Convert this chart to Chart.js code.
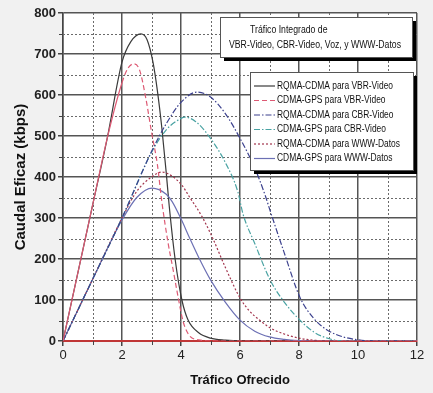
<!DOCTYPE html>
<html>
<head>
<meta charset="utf-8">
<script src="https://cdn.jsdelivr.net/npm/chart.js@4.4.1/dist/chart.umd.min.js"></script>
<style>
  html, body { margin: 0; padding: 0; background: #f1f1f1; }
  #wrap { width: 433px; height: 393px; }
</style>
</head>
<body>
<div id="wrap"><canvas id="chart" width="433" height="393"></canvas></div>
<script>
// valores
const titleLines = ['Tráfico Integrado de', 'VBR-Video, CBR-Video, Voz, y WWW-Datos'];
const seriesNames = [
  'RQMA-CDMA para VBR-Video',
  'CDMA-GPS para VBR-Video',
  'RQMA-CDMA para CBR-Video',
  'CDMA-GPS para CBR-Video',
  'RQMA-CDMA para WWW-Datos',
  'CDMA-GPS para WWW-Datos'
];
const xTicks = [0, 2, 4, 6, 8, 10, 12];
const yTicks = [0, 100, 200, 300, 400, 500, 600, 700, 800];

const vbrRqmaX = [0, 1, 1.5, 2, 2.3, 2.64, 2.85, 3.05, 3.2, 3.35, 3.5, 3.6, 3.8, 4.03, 4.24, 4.6, 5, 5.5, 6, 12];
const vbrRqmaY = [0, 330, 495, 680, 730, 749, 735, 680, 610, 520, 410, 330, 200, 100, 51, 20, 7, 2, 0, 0];

const vbrGpsX = [0, 1, 1.5, 2, 2.2, 2.4, 2.6, 2.8, 3.0, 3.2, 3.35, 3.56, 3.73, 3.9, 4.07, 4.3, 4.6, 5, 12];
const vbrGpsY = [0, 330, 495, 630, 665, 676, 660, 595, 510, 430, 340, 240, 175, 108, 48, 12, 3, 0, 0];

const cbrRqmaX = [0, 1, 2, 3, 3.5, 4, 4.54, 5, 5.49, 6.07, 6.5, 6.85, 7.02, 7.5, 8.03, 8.5, 8.95, 9.5, 10, 10.5, 12];
const cbrRqmaY = [0, 150, 300, 462, 530, 582, 607, 595, 556, 485, 422, 356, 318, 215, 107, 55, 27, 10, 3, 0, 0];

const cbrGpsX = [0, 1, 2, 3, 3.5, 4, 4.14, 4.5, 4.92, 5.49, 5.93, 6.1, 6.5, 7.02, 7.5, 8.03, 8.5, 9, 9.5, 12];
const cbrGpsY = [0, 150, 300, 460, 515, 543, 546, 535, 502, 437, 363, 310, 238, 149, 95, 51, 22, 6, 0, 0];

const wwwRqmaX = [0, 1, 2, 2.5, 3, 3.35, 3.7, 4.03, 4.3, 4.7, 5.08, 5.5, 6, 6.3, 6.68, 7, 7.5, 8, 8.5, 9, 12];
const wwwRqmaY = [0, 150, 300, 365, 400, 412, 402, 380, 350, 305, 250, 180, 105, 75, 50, 33, 17, 7, 2, 0, 0];

const wwwGpsX = [0, 1, 2, 2.5, 3.02, 3.5, 3.7, 4.0, 4.3, 4.64, 5, 5.5, 6, 6.5, 7, 7.5, 8, 8.5, 12];
const wwwGpsY = [0, 150, 295, 350, 373, 358, 340, 298, 250, 198, 149, 95, 51, 24, 10, 4, 1, 0, 0];

const pts = (xs, ys) => xs.map((x, i) => ({ x: x, y: ys[i] }));

const sans = "'Liberation Sans', Arial, sans-serif";

const datasets = [
  { label: seriesNames[0], data: pts(vbrRqmaX, vbrRqmaY), borderColor: '#3a3a3a', borderDash: [], order: 1 },
  { label: seriesNames[1], data: pts(vbrGpsX, vbrGpsY), borderColor: '#dd5a74', borderDash: [5, 3],
    segment: { borderDash: (c) => c.p0.parsed.x < 2 ? [] : [5, 3] } },
  { label: seriesNames[2], data: pts(cbrRqmaX, cbrRqmaY), borderColor: '#3c418e', borderDash: [6, 2, 1.5, 2] },
  { label: seriesNames[3], data: pts(cbrGpsX, cbrGpsY), borderColor: '#4aa3a3', borderDash: [6, 2, 1.5, 2] },
  { label: seriesNames[4], data: pts(wwwRqmaX, wwwRqmaY), borderColor: '#a3364e', borderDash: [2, 2] },
  { label: seriesNames[5], data: pts(wwwGpsX, wwwGpsY), borderColor: '#6c70b4', borderDash: [] }
].map((d) => Object.assign({
  borderWidth: 1.2,
  pointRadius: 0,
  fill: false,
  cubicInterpolationMode: 'monotone'
}, d));

// fondo blanco del área y rejilla punteada secundaria
const areaPlugin = {
  id: 'area',
  beforeDraw(chart) {
    const { ctx, chartArea: a } = chart;
    ctx.save();
    ctx.fillStyle = '#ffffff';
    ctx.fillRect(a.left, a.top, a.right - a.left, a.bottom - a.top);
    ctx.restore();
  },
  beforeDatasetsDraw(chart) {
    const { ctx, chartArea: a, scales } = chart;
    ctx.save();
    ctx.strokeStyle = '#6a6a6a';
    ctx.lineWidth = 1;
    ctx.setLineDash([2, 2]);
    for (let v = 1; v < 12; v += 2) {
      const px = Math.round(scales.x.getPixelForValue(v)) + 0.5;
      ctx.beginPath(); ctx.moveTo(px, a.top); ctx.lineTo(px, a.bottom); ctx.stroke();
    }
    for (let v = 50; v < 800; v += 100) {
      const py = Math.round(scales.y.getPixelForValue(v)) + 0.5;
      ctx.beginPath(); ctx.moveTo(a.left, py); ctx.lineTo(a.right, py); ctx.stroke();
    }
    ctx.setLineDash([]);
    ctx.strokeStyle = '#444';
    for (let v = 1; v < 12; v += 2) {
      const px = Math.round(scales.x.getPixelForValue(v)) + 0.5;
      ctx.beginPath(); ctx.moveTo(px, a.bottom); ctx.lineTo(px, a.bottom + 4); ctx.stroke();
    }
    for (let v = 50; v < 800; v += 100) {
      const py = Math.round(scales.y.getPixelForValue(v)) + 0.5;
      ctx.beginPath(); ctx.moveTo(a.left - 4, py); ctx.lineTo(a.left, py); ctx.stroke();
    }
    ctx.restore();
  }
};

function shadowBox(ctx, x, y, w, h) {
  ctx.fillStyle = '#000';
  ctx.fillRect(x + 4, y + 4, w, h);
  ctx.fillStyle = '#fff';
  ctx.fillRect(x, y, w, h);
  ctx.strokeStyle = '#555';
  ctx.lineWidth = 1;
  ctx.strokeRect(x + 0.5, y + 0.5, w, h);
}

// texto estrecho: escala horizontal
function narrowText(ctx, text, x, y, sx) {
  ctx.save();
  ctx.translate(x, y);
  ctx.scale(sx, 1);
  ctx.fillText(text, 0, 0);
  ctx.restore();
}

// cajas de título y leyenda dentro del gráfico
const boxPlugin = {
  id: 'boxes',
  afterDraw(chart) {
    const ctx = chart.ctx;
    ctx.save();
    shadowBox(ctx, 220, 17, 192, 40);
    ctx.fillStyle = '#111';
    ctx.font = '10px ' + sans;
    ctx.textBaseline = 'middle';
    ctx.textAlign = 'left';
    const sxTitle = 172 / ctx.measureText(titleLines[1]).width;
    narrowText(ctx, titleLines[0], 250, 30, sxTitle);
    narrowText(ctx, titleLines[1], 229, 45, sxTitle);

    shadowBox(ctx, 250, 72, 163, 98);
    const sxLeg = 116 / ctx.measureText(seriesNames[0]).width;
    chart.data.datasets.forEach((ds, i) => {
      const y = 86 + i * 14.5;
      ctx.strokeStyle = ds.borderColor;
      ctx.lineWidth = 1.2;
      ctx.setLineDash(ds.borderDash);
      ctx.beginPath(); ctx.moveTo(254, y); ctx.lineTo(275, y); ctx.stroke();
      ctx.setLineDash([]);
      ctx.fillStyle = '#111';
      narrowText(ctx, ds.label, 277, y, sxLeg);
    });
    ctx.restore();
  }
};

new Chart(document.getElementById('chart'), {
  type: 'line',
  data: { datasets: datasets },
  options: {
    responsive: false,
    animation: false,
    events: [],
    layout: { padding: { left: 0, right: 16, top: 13, bottom: 0 } },
    plugins: { legend: { display: false }, tooltip: { enabled: false } },
    scales: {
      x: {
        type: 'linear', min: 0, max: 12,
        afterBuildTicks: (s) => { s.ticks = xTicks.map((v) => ({ value: v })); },
        afterFit: (s) => { s.height = 52; },
        ticks: { color: '#222', font: { family: sans, size: 13 }, padding: 2 },
        grid: { color: '#555', lineWidth: 1.5, tickLength: 5, tickColor: '#444' },
        border: { color: '#c03636', width: 2 },
        title: { display: true, text: 'Tráfico Ofrecido', color: '#111',
          font: { family: sans, size: 13, weight: 'bold' }, padding: { top: 0, bottom: 5 } }
      },
      y: {
        min: 0, max: 800,
        afterBuildTicks: (s) => { s.ticks = yTicks.map((v) => ({ value: v })); },
        afterFit: (s) => { s.width = 63; },
        ticks: { color: '#222', font: { family: sans, size: 13, weight: 'bold' }, padding: 2 },
        grid: { color: '#555', lineWidth: 1.5, tickLength: 5, tickColor: '#444' },
        border: { color: '#444', width: 1.5 },
        title: { display: true, text: 'Caudal Eficaz (kbps)', color: '#111',
          font: { family: sans, size: 15, weight: 'bold' }, padding: { top: 12, bottom: 0 } }
      }
    }
  },
  plugins: [areaPlugin, boxPlugin]
});
</script>
</body>
</html>
